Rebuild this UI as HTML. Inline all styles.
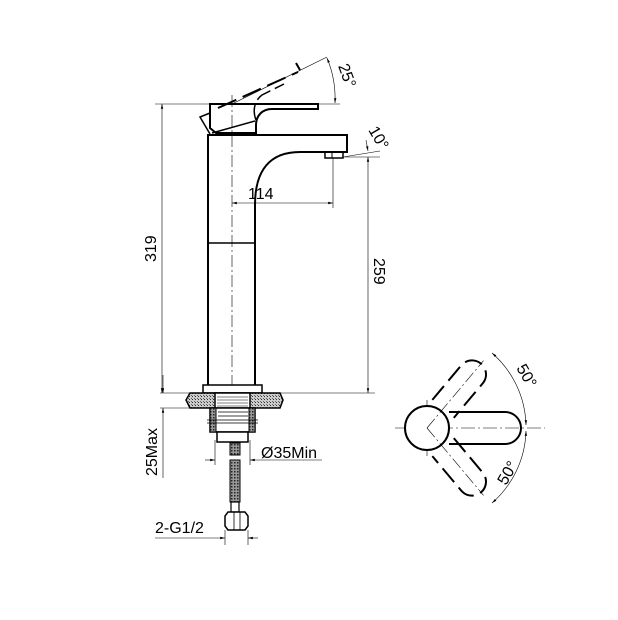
<html><body style="margin:0;background:#fff">
<svg width="618" height="620" viewBox="0 0 618 620" xmlns="http://www.w3.org/2000/svg" font-family="Liberation Sans, sans-serif">
<defs>
<pattern id="st" width="3" height="3" patternUnits="userSpaceOnUse"><rect width="3" height="3" fill="#ccc"/><rect width="1" height="1" fill="#333"/><rect x="2" y="2" width="1" height="1" fill="#666"/></pattern>
<pattern id="hs" width="3" height="3" patternUnits="userSpaceOnUse"><rect width="3" height="3" fill="#999"/><rect width="1.5" height="1.5" fill="#222"/></pattern>
<marker id="a" viewBox="0 0 10 10" refX="10" refY="5" markerWidth="8" markerHeight="8" orient="auto-start-reverse"><path d="M0,2.5 L10,5 L0,7.5z" fill="#000"/></marker>
</defs>
<g fill="none" stroke="#000">
<line x1="232" y1="95" x2="232" y2="395" stroke-width="0.6" stroke-dasharray="12,3,2,3"/>
<path d="M208,385 V135 H347 V152 H300 C270,152 255,170 255,205 V385" stroke-width="2"/>
<line x1="208" y1="243" x2="255" y2="243" stroke-width="1.5"/>
<path d="M325,152 V158 H343 V152" stroke-width="1.5"/>
<line x1="332" y1="152" x2="332" y2="158" stroke-width="1"/>
<path d="M210,104 H318 V109 H272 C262,109 256,116 256,125 V133 H216 L210,128 Z" stroke-width="2"/>
<path d="M210,113 L200,117 L210,134" stroke-width="1.5"/>
<line x1="212" y1="133" x2="255" y2="121" stroke-width="1.5"/>
<path d="M218,108 L298,72 M300,70 L296,63" stroke-width="2" stroke-dasharray="20,7"/>
<path d="M256,120 C252,110 255,100 262,95 L284,84" stroke-width="1.5" stroke-dasharray="16,5"/>
<line x1="232" y1="104" x2="327" y2="57" stroke-width="0.6"/>
<line x1="318" y1="104" x2="340" y2="104" stroke-width="0.6"/>
<path d="M327,58 A105,105 0 0 1 335,103" stroke-width="0.6" marker-start="url(#a)" marker-end="url(#a)"/>
<line x1="343" y1="157" x2="380" y2="151" stroke-width="0.6"/>
<line x1="343" y1="157" x2="380" y2="157" stroke-width="0.6"/>
<path d="M366,140 L368,151" stroke-width="0.6" marker-end="url(#a)"/>
<line x1="155" y1="104" x2="210" y2="104" stroke-width="0.6"/>
<line x1="162" y1="104" x2="162" y2="393" stroke-width="0.6" marker-start="url(#a)" marker-end="url(#a)"/>
<line x1="368" y1="157" x2="368" y2="393" stroke-width="0.6" marker-start="url(#a)" marker-end="url(#a)"/>
<line x1="262" y1="393" x2="375" y2="393" stroke-width="0.6"/>
<line x1="232" y1="203" x2="333" y2="203" stroke-width="0.6" marker-start="url(#a)" marker-end="url(#a)"/>
<line x1="333" y1="158" x2="333" y2="208" stroke-width="0.6"/>
<rect x="203" y="385" width="59" height="8" stroke-width="1.5" fill="#fff"/>
<path d="M190,393 H280 L283,400 L280,408 H190 L186,400 Z" fill="url(#st)" stroke-width="1.5"/>
<rect x="215" y="393" width="35" height="15" fill="#fff" stroke-width="1.5"/>
<path d="M217,397 H248 M217,400 H248 M217,403 H248 M217,406 H248" stroke-width="0.5"/>
<rect x="210" y="408" width="45" height="24" fill="#fff" stroke-width="1.5"/>
<rect x="210" y="408" width="6" height="24" fill="url(#hs)" stroke-width="1"/>
<rect x="249" y="408" width="6" height="24" fill="url(#hs)" stroke-width="1"/>
<path d="M207,420 H258 M207,423 H258 M218,412 H248 M218,416 H248" stroke-width="0.8"/>
<rect x="217" y="432" width="31" height="10" fill="#fff" stroke-width="1.5"/>
<rect x="230" y="443" width="10" height="12" fill="url(#hs)" stroke-width="1"/>
<rect x="230" y="460" width="10" height="42" fill="url(#hs)" stroke-width="1"/>
<rect x="231" y="502" width="8" height="10" fill="#fff" stroke-width="1.2"/>
<path d="M228,512 H245 L248,516 V526 L245,530 H228 L225,526 V516 Z" fill="#fff" stroke-width="1.5"/>
<line x1="234" y1="512" x2="234" y2="530" stroke-width="0.8"/><line x1="240" y1="512" x2="240" y2="530" stroke-width="0.8"/>
<line x1="160" y1="393" x2="190" y2="393" stroke-width="0.6"/>
<line x1="160" y1="408" x2="190" y2="408" stroke-width="0.6"/>
<line x1="163" y1="375" x2="163" y2="393" stroke-width="0.6" marker-end="url(#a)"/>
<line x1="163" y1="478" x2="163" y2="408" stroke-width="0.6" marker-end="url(#a)"/>
<line x1="205" y1="460" x2="215" y2="460" stroke-width="0.6" marker-end="url(#a)"/>
<line x1="322" y1="460" x2="250" y2="460" stroke-width="0.6" marker-end="url(#a)"/>
<line x1="215" y1="440" x2="215" y2="465" stroke-width="0.6"/><line x1="250" y1="440" x2="250" y2="465" stroke-width="0.6"/>
<line x1="155" y1="538" x2="225" y2="538" stroke-width="0.6" marker-end="url(#a)"/>
<line x1="258" y1="538" x2="248" y2="538" stroke-width="0.6" marker-end="url(#a)"/>
<line x1="225" y1="530" x2="225" y2="545" stroke-width="0.6"/><line x1="248" y1="530" x2="248" y2="545" stroke-width="0.6"/>
<line x1="395" y1="428" x2="545" y2="428" stroke-width="0.6" stroke-dasharray="14,3,2,3"/>
<line x1="427" y1="400" x2="427" y2="456" stroke-width="0.6"/>
<path d="M449,412 H505 A16,16 0 0 1 505,444 H449" stroke-width="2"/>
<circle cx="427" cy="428" r="22" stroke-width="2" fill="#fff"/>
<g transform="rotate(-50 427 428)" stroke-width="2" stroke-dasharray="18,7">
<path d="M452,414 H497 A14,14 0 0 1 497,442 H452"/>
<line x1="427" y1="428" x2="515" y2="428" stroke-width="0.6" stroke-dasharray="12,3,2,3"/>
</g>
<g transform="rotate(50 427 428)" stroke-width="2" stroke-dasharray="18,7">
<path d="M452,414 H497 A14,14 0 0 1 497,442 H452"/>
<line x1="427" y1="428" x2="515" y2="428" stroke-width="0.6" stroke-dasharray="12,3,2,3"/>
</g>
<path d="M492,353 A99,99 0 0 1 526,425" stroke-width="0.6" marker-start="url(#a)" marker-end="url(#a)"/>
<path d="M526,431 A99,99 0 0 1 492,503" stroke-width="0.6" marker-start="url(#a)" marker-end="url(#a)"/>
</g>
<g font-size="16" fill="#000">
<text x="248" y="199">114</text>
<text transform="translate(156,262) rotate(-90)">319</text>
<text transform="translate(374,258) rotate(90)">259</text>
<text transform="translate(157,476) rotate(-90)">25Max</text>
<text x="261" y="458">Ø35Min</text>
<text x="155" y="533">2-G1/2</text>
<text transform="translate(338,66) rotate(70)">25°</text>
<text transform="translate(368,130) rotate(60)">10°</text>
<text transform="translate(516,368) rotate(60)">50°</text>
<text transform="translate(506,486) rotate(-60)">50°</text>
</g>
</svg>
</body></html>
